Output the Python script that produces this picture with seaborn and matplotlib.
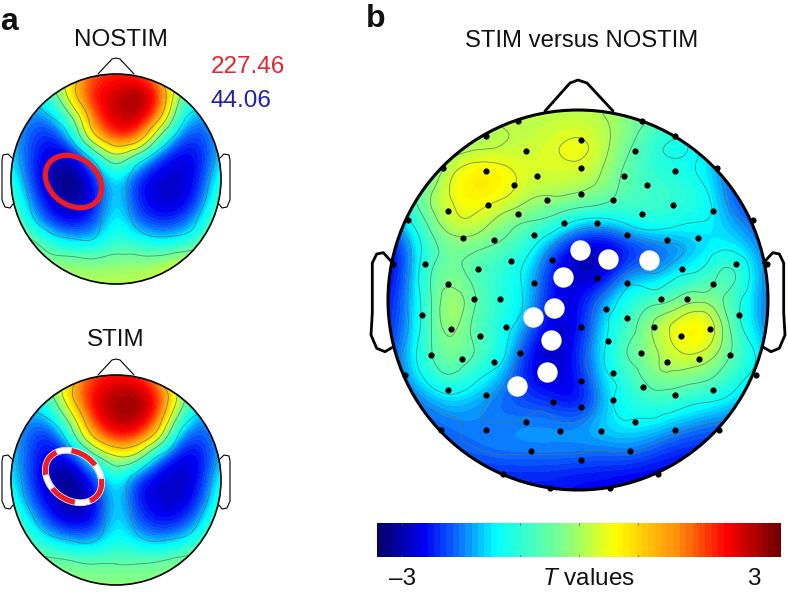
import numpy as np
import pandas as pd
import matplotlib
matplotlib.use("Agg")
import matplotlib.pyplot as plt
import matplotlib.tri as mtri
from matplotlib.colors import LinearSegmentedColormap
from matplotlib.patches import Circle, Ellipse
import seaborn as sns

# ---------- data (T values, node positions in image pixels) ----------
a_x = [-10, 11, 32, 53, 74, 95, 116, 137, 158, 179, 200, 221, 242]
nostim_y = [53, 74, 95, 116, 137, 158, 179, 200, 221, 242, 263, 284, 305]
stim_y = [354, 375, 396, 417, 438, 459, 480, 501, 522, 543, 564, 585, 606]
nostim_values = [
    [-1, -1, -.8, -.2, 1.0, 1.8, 2.0, 1.9, 1.2, -.2, -.8, -1, -1],
    [-1, -1, -.8, -.2, 1.0, 1.8, 2.0, 1.9, 1.2, -.2, -.8, -1, -1],
    [-1.2, -1.2, -1.2, -.7, 1.2, 2.3, 2.5, 2.9, 2.3, -.2, -1.2, -1.2, -1.2],
    [-1.4, -1.4, -1.8, -1.5, -.1, 2.0, 2.5, 2.7, 1.8, -1.0, -1.7, -1.4, -1.3],
    [-1.4, -1.4, -2.0, -2.3, -1.2, 1.2, 2.2, 2.0, -.3, -1.9, -2.1, -1.4, -1.2],
    [-1.2, -1.3, -2.1, -2.5, -2.6, -1.2, .1, -.9, -2.1, -2.45, -2.3, -1.3, -1],
    [-.8, -.9, -2.1, -2.8, -2.95, -2.2, -1.1, -2.2, -2.5, -2.55, -2.2, -.9, -.7],
    [-.4, -.6, -1.8, -2.5, -2.85, -2.3, -1.1, -2.2, -2.5, -2.55, -2.0, -.5, -.3],
    [-.1, -.2, -1.4, -2.2, -2.4, -2.0, -1.0, -1.9, -2.2, -2.1, -1.4, -.1, 0],
    [.1, 0, -.3, -1.1, -1.4, -1.4, -.8, -1.0, -1.3, -1.2, -.7, .2, .3],
    [.1, .1, 0, -.1, -.1, -.2, -.1, -.1, 0, .3, .6, .5, .4],
    [.1, .1, .1, .1, .1, .1, .1, .1, .2, .5, .7, .5, .4],
    [.1, .1, .1, .1, .1, .1, .1, .1, .2, .5, .7, .5, .4],
]
stim_values = [
    [-1, -1, -.8, -.1, 1.1, 1.9, 2.1, 2.0, 1.2, -.2, -.8, -1, -1],
    [-1, -1, -.8, -.1, 1.1, 1.9, 2.1, 2.0, 1.2, -.2, -.8, -1, -1],
    [-1.2, -1.2, -1.2, -.4, 1.5, 2.4, 2.7, 2.8, 2.2, .3, -1.2, -1.3, -1.3],
    [-1.4, -1.4, -1.7, -1.3, .5, 2.3, 2.7, 2.8, 2.0, -.6, -1.7, -1.5, -1.4],
    [-1.4, -1.4, -2.0, -2.3, -.7, 1.4, 2.2, 2.0, .6, -1.8, -2.1, -1.5, -1.3],
    [-1.2, -1.3, -2.1, -2.5, -2.3, -.9, .2, -.2, -1.9, -2.45, -2.4, -1.4, -1],
    [-.9, -1.2, -2.1, -2.8, -2.9, -2.1, -1.0, -2.2, -2.5, -2.6, -2.3, -1.0, -.8],
    [-.6, -.9, -1.9, -2.5, -2.85, -2.4, -1.1, -2.2, -2.5, -2.55, -2.1, -.7, -.5],
    [-.3, -.4, -1.4, -2.2, -2.5, -2.3, -1.1, -1.9, -2.3, -2.2, -1.5, -.3, -.2],
    [-.1, -.2, -.7, -1.2, -1.5, -1.5, -1.0, -1.3, -1.5, -1.3, -.8, -.1, 0],
    [0, -.1, -.2, -.2, -.3, -.4, -.4, -.4, -.3, -.1, .1, .3, .2],
    [-.1, -.1, -.1, -.1, -.1, -.1, -.1, -.1, -.1, -.1, 0, .1, .1],
    [-.1, -.1, -.1, -.1, -.1, -.1, -.1, -.1, -.1, -.1, 0, .1, .1],
]
b_x = [375, 401, 426, 451, 477, 502, 527, 553, 578, 603, 629, 654, 679, 705, 730, 756, 781]
b_y = [97, 122, 148, 173, 199, 224, 249, 275, 300, 325, 351, 376, 401, 427, 452, 478, 503]
contrast_values = [
    [-.3, -.3, -.3, -.2, 0, .1, .1, .1, .1, 0, -.2, -.6, -1, -1.2, -1.5, -1.8, -2],
    [-.3, -.3, -.3, -.2, 0, .1, .1, .15, .2, .1, -.2, -.6, -1, -1.2, -1.5, -1.8, -2],
    [-.8, -.8, -.6, -.2, 0, .1, .2, .4, .6, .2, -.4, -1.0, -1.2, -1.2, -1.7, -1.9, -2.2],
    [-1.4, -1.2, -.6, .4, .85, .7, .3, .3, .3, 0, -.6, -.9, -1.0, -1.3, -1.9, -2.1, -2.2],
    [-1.8, -1.0, -.1, .5, .7, .5, .1, 0, -.1, -.3, -.6, -.7, -.8, -1.0, -1.9, -2.2, -2.3],
    [-2.2, -1.6, -.5, .3, .3, -.2, -.5, -.8, -1.4, -1.5, -1.1, -.9, -1.1, -1.2, -1.5, -1.9, -2.2],
    [-2.5, -2.2, -.9, -.3, -.4, -.6, -1.0, -1.9, -2.6, -2.7, -2.3, -2.0, -1.8, -1.4, -1.2, -1.6, -2],
    [-2.5, -2.2, -.7, -.2, -.7, -1.0, -1.3, -2.3, -2.7, -2.5, -1.6, -1.7, -1.2, -.9, -.3, -1.5, -2],
    [-2.4, -2.0, -.8, .3, -.5, -.9, -1.3, -2.4, -2.3, -1.6, -.9, -.7, -.3, -.1, -.7, -1.6, -2],
    [-2.3, -2.0, -.8, .2, -.7, -1.0, -1.6, -2.6, -2.4, -1.3, -.7, .1, .7, .85, -.5, -1.6, -2],
    [-2.2, -1.8, -.7, -.1, -.5, -1.0, -2.2, -2.7, -2.1, -1.2, -.4, 0, .5, .45, -.4, -1.2, -1.9],
    [-2.2, -1.8, -1, -.5, -1, -1.5, -2.3, -2.6, -2.2, -1.3, -.8, -.1, -.1, -.3, -.8, -1.3, -1.9],
    [-2.2, -2, -1.7, -1.4, -1.6, -1.9, -2.0, -2.1, -2.5, -1.5, -1, -.8, -.9, -1.1, -1.3, -1.7, -2],
    [-2.2, -2, -1.9, -1.8, -1.7, -1.7, -1.6, -1.6, -1.6, -1.3, -1.2, -1.3, -1.6, -1.8, -1.9, -2, -2.1],
    [-2.2, -2.1, -2, -1.9, -1.8, -1.7, -1.7, -1.7, -1.7, -1.8, -1.7, -2.0, -2.2, -2.2, -2.2, -2.2, -2.2],
    [-2.3, -2.3, -2.3, -2.2, -2.2, -2.2, -2.2, -2.2, -2.3, -2.3, -2.4, -2.4, -2.4, -2.4, -2.4, -2.4, -2.4],
    [-2.3, -2.3, -2.3, -2.2, -2.2, -2.2, -2.2, -2.2, -2.3, -2.3, -2.4, -2.4, -2.4, -2.4, -2.4, -2.4, -2.4],
]
sensor_x = [518.3, 642.3, 486, 674.7, 581, 526, 634.7, 443.3, 717.3, 581, 486, 674.7, 536.7, 624, 513.7,
            647.3, 581, 547.3, 613.3, 487.7, 672.7, 447.7, 713, 518.3, 642.3, 407.7, 752.7, 564.3, 596.7,
            533.7, 627, 463.3, 493.7, 667, 697.7, 425, 510.7, 552, 736, 478.3, 682, 392.7, 766.7, 447.7,
            533.7, 596.7, 627, 713, 474, 500, 660.7, 686.7, 422, 605.7, 627, 739, 451, 506, 581, 654.3,
            709.7, 480.3, 608, 680.7, 431, 462, 520, 494, 641, 667, 699.3, 729.7, 613.3, 581, 755.7,
            404.7, 447.7, 486.3, 642.7, 674.7, 713, 553.3, 581, 613.3, 526, 635, 486.3, 560, 601.3,
            674.7, 441, 719, 530.7, 630.3, 581, 502.7, 657.7, 550.3, 610.3]
sensor_y = [120.7, 120.7, 135.7, 135.7, 140.3, 151, 151, 167.7, 167.7, 168, 170.7, 170.7, 175.7, 175.7,
            184.7, 184.7, 194, 200, 200, 204.7, 204.7, 211, 211, 213.7, 213.7, 220, 220, 223.3, 223.3,
            235.3, 235.3, 238.3, 240, 240, 238.3, 264.3, 261.3, 259.7, 264.3, 269, 269, 264.3, 264.3,
            284.3, 282.7, 278, 282.7, 284.3, 299, 299, 299, 299, 315, 309, 318, 315, 328.7, 327.3,
            327.3, 327.3, 328.7, 336.3, 341, 336.3, 354.7, 359.3, 353.3, 362.3, 353.3, 362.3, 359.3,
            354.7, 373, 380.7, 374.7, 374.7, 390, 394.7, 386.7, 394.7, 390, 402.3, 406.7, 400.3, 422,
            422, 430, 431.3, 431.3, 430, 430, 430, 451.3, 451.3, 460.3, 474, 474, 488.3, 488.3]
cluster_x = [580.3, 608, 649.3, 563.3, 554.3, 533, 551.3, 547, 517.3]
cluster_y = [249.7, 259, 260.3, 277, 308, 317, 340, 372, 386]
colorbar_levels = list(range(64))
colorbar_ticks = [0.0625, 0.208, 0.354, 0.5, 0.646, 0.792, 0.938]
max_label = "227.46"
min_label = "44.06"

# ---------- style ----------
sns.set_theme(style="white")
plt.rcParams["font.family"] = ["Liberation Sans", "DejaVu Sans"]
plt.rcParams["mathtext.fontset"] = "custom"
plt.rcParams["mathtext.it"] = "Liberation Sans:italic"
plt.rcParams["mathtext.rm"] = "Liberation Sans"
plt.rcParams["contour.negative_linestyle"] = "solid"
cmap = LinearSegmentedColormap.from_list("bar", [
    (0.0, (0.02, 0.0, 0.42)), (0.11, (0.0, 0.0, 0.95)), (0.20, (0.05, 0.45, 1.0)),
    (0.29, (0.0, 1.0, 1.0)), (0.46, (0.5, 1.0, 0.55)), (0.59, (1.0, 1.0, 0.0)),
    (0.75, (1.0, 0.55, 0.05)), (0.87, (1.0, 0.0, 0.0)), (1.0, (0.45, 0.0, 0.0))], N=64)

fig = plt.figure(figsize=(7.88, 5.92), dpi=100)
ax = fig.add_axes([0, 0, 1, 1])
ax.set_facecolor("none")


def topo(xs, ys, values, cx, cy, r, levels, lw_contour):
    step_x = xs[1] - xs[0]
    step_y = ys[1] - ys[0]
    im = ax.imshow(np.array(values), cmap=cmap, vmin=-3, vmax=3, aspect="auto", origin="upper",
                   interpolation="bicubic",
                   extent=(xs[0] - step_x / 2, xs[-1] + step_x / 2, ys[-1] + step_y / 2, ys[0] - step_y / 2))
    clip = Circle((cx, cy), r, transform=ax.transData)
    im.set_clip_path(clip)
    gx, gy = np.meshgrid(xs, ys)
    tri = mtri.Triangulation(gx.ravel(), gy.ravel())
    fine, z = mtri.UniformTriRefiner(tri).refine_field(np.array(values, float).ravel(), subdiv=3)
    cs = ax.tricontour(fine, z, levels=levels, colors="#4f7a66", linewidths=lw_contour, alpha=0.8)
    cs.set_clip_path(clip)


topo(a_x, nostim_y, nostim_values, 116, 179, 105, [-1.6, -.4, .5, 1.4], 0.6)
topo(a_x, stim_y, stim_values, 116, 480, 105, [-1.6, -.4, .5, 1.4], 0.6)
topo(b_x, b_y, contrast_values, 578, 300, 190, [-1.75, -1.15, -.45, .05, .5], 0.6)


def head(cx, cy, r, scale, lw):
    ax.add_patch(Circle((cx, cy), r, fill=False, ec="black", lw=lw * 1.5, zorder=4))
    k = scale
    ax.plot(cx + k * np.array([-18, -4, 0, 4, 18]), cy + k * np.array([-105, -120, -121, -120, -105]),
            color="black", lw=lw, zorder=4)
    ear_x = [-104, -108, -113, -114, -114, -111, -106, -103]
    ear_y = [-21, -25, -24, -19, 21, 28, 29, 25]
    ax.plot(cx + k * np.array(ear_x), cy + k * np.array(ear_y), color="black", lw=lw, zorder=4)
    ax.plot(cx - k * np.array(ear_x), cy + k * np.array(ear_y), color="black", lw=lw, zorder=4)


head(116, 179, 105, 1.0, 0.8)
head(116, 480, 105, 1.0, 0.8)
ax.add_patch(Circle((578, 300), 190, fill=False, ec="black", lw=2.2, zorder=4))
ax.plot([545, 570, 578, 587, 613], [111, 83, 80, 83, 111], color="black", lw=2, zorder=4)
left_x = np.array([392.7, 383.3, 376.7, 372.3, 372.3, 371, 376.7, 385, 393])
left_y = [263, 252.7, 254, 263, 313, 335, 348.3, 351.7, 347]
ax.plot(left_x, left_y, color="black", lw=2, zorder=4)
ax.plot(1156 - left_x, left_y, color="black", lw=2, zorder=4)

# electrodes of interest
ax.add_patch(Ellipse((73.5, 181.5), 61, 47, angle=37, fill=False, ec="#ee1c25", lw=3.8, zorder=5))
ax.add_patch(Ellipse((73.5, 476.5), 61, 47, angle=37, fill=False, ec="white", lw=4.8, zorder=5))
ax.add_patch(Ellipse((73.5, 476.5), 61, 47, angle=37, fill=False, ec="#ee1c25", lw=3.8, zorder=5))
ax.add_patch(Ellipse((73.5, 476.5), 61, 47, angle=37, fill=False, ec="white", lw=3.8, zorder=6,
                     linestyle=(6.0, (2.9, 5.1))))

sns.scatterplot(x=sensor_x, y=sensor_y, color="black", s=20, linewidth=0, ax=ax, zorder=7, legend=False)
sns.scatterplot(x=cluster_x, y=cluster_y, color="white", s=215, linewidth=0, ax=ax, zorder=8, legend=False)

ax.set_xlim(0, 788)
ax.set_ylim(592, 0)
ax.axis("off")

# colour bar
cax = fig.add_axes([377 / 788, 1 - 557 / 592, 404 / 788, 34 / 592])
sns.heatmap(pd.DataFrame([colorbar_levels]), cmap=cmap, cbar=False, xticklabels=False, yticklabels=False, ax=cax)
for t in colorbar_ticks:
    pos = t * len(colorbar_levels)
    cax.plot([pos, pos], [0, 0.05], color="#555555", lw=0.5)
    cax.plot([pos, pos], [0.95, 1], color="#555555", lw=0.5)
cax.set_xlim(0, len(colorbar_levels))
cax.set_ylim(1, 0)

# text
txt = dict(ha="center", va="center", color="#111111")
ax.text(9, 22, "a", fontsize=23, fontweight="bold", **txt)
ax.text(376, 19, "b", fontsize=23, fontweight="bold", **txt)
ax.text(121, 40, "NOSTIM", fontsize=17.4, **txt)
ax.text(116, 340, "STIM", fontsize=17.4, **txt)
ax.text(582, 41, "STIM versus NOSTIM", fontsize=17.2, **txt)
ax.text(211, 67, max_label, fontsize=17.5, ha="left", va="center", color="#e3262e")
ax.text(211, 101, min_label, fontsize=17.5, ha="left", va="center", color="#2020b0")
ax.text(403, 579, "\u20133", fontsize=17.5, **txt)
ax.text(588, 579, r"$\mathit{T}$ values", fontsize=17.5, **txt)
ax.text(754, 579, "3", fontsize=17.5, **txt)

fig.savefig("out.png", dpi=100)
